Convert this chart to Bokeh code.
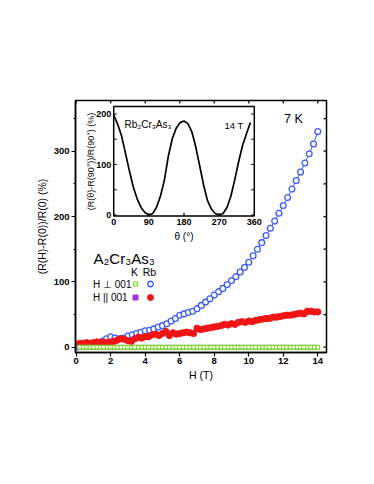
from math import pi
from bokeh.plotting import figure
from bokeh.models import Range1d, SingleIntervalTicker, Label
from bokeh.embed import file_html
from bokeh.resources import INLINE
from bokeh.core.properties import value

# ---------------- data ----------------
# Rb2Cr3As3, H perpendicular to 001 (blue open circles)
H_RB_PERP = [0.0, 0.25, 0.5, 0.75, 1.0, 1.25, 1.5, 1.75, 2.0, 2.25, 2.5, 2.75, 3.0, 3.25,
             3.5, 3.75, 4.0, 4.25, 4.5, 4.75, 5.0, 5.25, 5.5, 5.75, 6.0, 6.25, 6.5, 6.75,
             7.0, 7.25, 7.5, 7.75, 8.0, 8.25, 8.5, 8.75, 9.0, 9.25, 9.5, 9.75, 10.0, 10.25,
             10.5, 10.75, 11.0, 11.25, 11.5, 11.75, 12.0, 12.25, 12.5, 12.75, 13.0, 13.25,
             13.5, 13.75, 14.0]
MR_RB_PERP = [0, 2, 3, 4, 5, 6, 9, 13, 16, 14, 13, 14, 17, 19,
              21, 23, 25, 26, 28, 31, 33, 36, 40, 44, 49, 51, 53, 55,
              59, 64, 69, 74, 80, 85, 90, 96, 102, 108, 115, 122, 130, 140,
              150, 160, 171, 182, 193, 205, 217, 229, 242, 255, 268, 282,
              296, 311, 330]

# Rb2Cr3As3, H parallel to 001 (red filled circles)
H_RB_PAR = [0.0, 0.2, 0.4, 0.6, 0.8, 1.0, 1.2, 1.4, 1.6, 1.8, 2.0, 2.2, 2.4, 2.6, 2.8,
            3.0, 3.2, 3.4, 3.6, 3.8, 4.0, 4.2, 4.4, 4.6, 4.8, 5.0, 5.2, 5.4, 5.6, 5.8,
            6.0, 6.2, 6.4, 6.6, 6.8, 7.0, 7.2, 7.4, 7.6, 7.8, 8.0, 8.2, 8.4, 8.6, 8.8,
            9.0, 9.2, 9.4, 9.6, 9.8, 10.0, 10.2, 10.4, 10.6, 10.8, 11.0, 11.2, 11.4, 11.6,
            11.8, 12.0, 12.2, 12.4, 12.6, 12.8, 13.0, 13.2, 13.4, 13.6, 13.8, 14.0]
MR_RB_PAR = [4, 6, 6, 7, 6, 7, 8, 7, 8, 7, 8, 9, 11, 13, 12,
             10, 9, 13, 15, 14, 16, 16, 19, 20, 18, 21, 24, 18, 22, 20,
             21, 22, 23, 22, 21, 29, 27, 28, 29, 30, 31, 32, 33, 35, 34,
             36, 35, 38, 39, 38, 40, 39, 41, 42, 43, 44, 44, 46, 46,
             47, 48, 49, 49, 50, 51, 52, 51, 55, 55, 54, 54]

# K2Cr3As3, H perpendicular to 001 (green open squares)
H_K_PERP = [0.2, 0.4, 0.6, 0.8, 1.0, 1.2, 1.4, 1.6, 1.8, 2.0, 2.2, 2.4, 2.6, 2.8,
            3.0, 3.2, 3.4, 3.6, 3.8, 4.0, 4.2, 4.4, 4.6, 4.8, 5.0, 5.2, 5.4, 5.6, 5.8,
            6.0, 6.2, 6.4, 6.6, 6.8, 7.0, 7.2, 7.4, 7.6, 7.8, 8.0, 8.2, 8.4, 8.6, 8.8,
            9.0, 9.2, 9.4, 9.6, 9.8, 10.0, 10.2, 10.4, 10.6, 10.8, 11.0, 11.2, 11.4, 11.6,
            11.8, 12.0, 12.2, 12.4, 12.6, 12.8, 13.0, 13.2, 13.4, 13.6, 13.8, 14.0]
MR_K_PERP = [0, 0, 0, 0, 0, 0, 0, 0, 0, 0,
             0, 0, 0, 0, 0, 0, 0, 0, 0, 0,
             0, 0, 0, 0, 0, 0, 0, 0, 0, 0,
             0, 0, 0, 0, 0, 0, 0, 0, 0, 0,
             0, 0, 0, 0, 0, 0, 0, 0, 0, 0,
             0, 0, 0, 0, 0, 0, 0, 0, 0, 0,
             0, 0, 0, 0, 0, 0, 0, 0, 0, 0]

# K2Cr3As3, H parallel to 001 (purple filled squares)
H_K_PAR = [0.0, 0.1, 0.3, 0.5, 0.7, 0.9, 1.1, 1.3, 1.5, 1.7, 1.9, 2.1, 2.3, 2.5, 2.7,
           2.9, 3.1, 3.3, 3.5, 3.7, 3.9, 4.1, 4.3, 4.5, 4.7, 4.9, 5.1, 5.3, 5.5, 5.7,
           5.9, 6.1, 6.3, 6.5, 6.7, 6.9, 7.1, 7.3, 7.5, 7.7, 7.9, 8.1, 8.3, 8.5, 8.7,
           8.9, 9.1, 9.3, 9.5, 9.7, 9.9, 10.1, 10.3, 10.5, 10.7, 10.9, 11.1, 11.3, 11.5,
           11.7, 11.9, 12.1, 12.3, 12.5, 12.7, 12.9, 13.1, 13.3, 13.5, 13.7, 13.9]
MR_K_PAR = [0, 0, 0, 0, 0, 0, 0, 0, 0, 0,
            0, 0, 0, 0, 0, 0, 0, 0, 0, 0,
            0, 0, 0, 0, 0, 0, 0, 0, 0, 0,
            0, 0, 0, 0, 0, 0, 0, 0, 0, 0,
            0, 0, 0, 0, 0, 0, 0, 0, 0, 0,
            0, 0, 0, 0, 0, 0, 0, 0, 0, 0,
            0, 0, 0, 0, 0, 0, 0, 0, 0, 0, 0]

# inset: angular dependence at 14 T
THETA = [0, 10, 20, 30, 40, 50, 60, 70, 80, 90, 100, 110, 120, 130, 140, 150, 160, 170,
         180, 190, 200, 210, 220, 230, 240, 250, 260, 270, 280, 290, 300, 310, 320, 330,
         340, 350]
MR_THETA = [198, 180, 157, 123, 88, 56, 32, 15, 5, 0, 3, 16, 38, 70, 117, 151, 172, 183,
            186, 181, 165, 135, 98, 60, 29, 12, 3, 0, 3, 15, 37, 70, 106, 138,
            161, 183]

X_TICKS = [0, 2, 4, 6, 8, 10, 12, 14]
RIGHT_TICKS = [0, 50, 100, 150, 200, 250, 300, 350]
INSET_X_TICKS = [0, 90, 180, 270, 360]
INSET_Y_TICKS = [0, 100, 200]
INSET_Y_MINOR = [50, 150]

# ---------------- layout (figure pixel coordinates) ----------------
W, HGT = 366, 476
FL, FR, FT, FB = 75, 326, 100, 352                    # main frame
IN_L, IN_R, IN_T, IN_B = 113.2, 253.8, 106.0, 215.5   # inset frame


def rng(v0, p0, v1, p1, lo, hi):
    s = (p1 - p0) / (v1 - v0)
    return Range1d(v0 + (lo - p0) / s, v0 + (hi - p0) / s)


BLUE = "#3b5cf2"
RED = "#f01414"
GREEN = "#74d81c"
PURPLE = "#a533e6"
FONT = "Liberation Sans"

p = figure(width=W, height=HGT, output_backend="svg", toolbar_location=None,
           x_range=rng(0, 75.7, 14, 317.3, FL, FR),
           y_range=rng(0, 346.7, 300, 150.7, FB, FT),
           min_border_left=FL, min_border_right=W - FR,
           min_border_top=FT, min_border_bottom=HGT - FB)
p.extra_x_ranges = {"ix": rng(0, IN_L, 360, IN_R, FL, FR), "px": Range1d(FL, FR)}
p.extra_y_ranges = {"iy": rng(0, 214.5, 200, 113.5, FB, FT), "py": Range1d(FB, FT)}

p.xgrid.visible = False
p.ygrid.visible = False
p.outline_line_color = "black"
p.outline_line_width = 1.5
p.background_fill_color = "white"
p.border_fill_color = "white"

# main axes
xa = p.xaxis[0]
xa.ticker = SingleIntervalTicker(interval=2, num_minor_ticks=2)
xa.minor_tick_line_color = None
ya = p.yaxis[0]
ya.ticker = SingleIntervalTicker(interval=100, num_minor_ticks=2)
for ax in (xa, ya):
    ax.axis_line_width = 1.5
    ax.major_tick_line_width = 1.2
    ax.minor_tick_line_width = 1.2
    ax.major_tick_in = 0
    ax.major_tick_out = 4
    ax.minor_tick_in = 0
    ax.minor_tick_out = 2
    ax.major_label_text_font = FONT
    ax.major_label_text_font_size = "9.5px"
    ax.major_label_text_font_style = "bold"
    ax.major_label_text_color = "black"
    ax.axis_label_text_font = FONT
    ax.axis_label_text_font_size = "10.5px"
    ax.axis_label_text_font_style = "normal"
    ax.axis_label_text_color = "black"
xa.axis_label = "H (T)"
ya.axis_label = "(R(H)-R(0))/R(0) (%)"
xa.major_label_standoff = 1
xa.axis_label_standoff = 2
ya.major_label_standoff = 2
ya.axis_label_standoff = 3

# inward ticks on top and right edges
p.segment(x0=X_TICKS, x1=X_TICKS, y0=[FT] * len(X_TICKS), y1=[FT + 3] * len(X_TICKS),
          y_range_name="py", line_color="black", line_width=1.2)
p.segment(x0=[FR] * len(RIGHT_TICKS), x1=[FR - 3] * len(RIGHT_TICKS), y0=RIGHT_TICKS,
          y1=RIGHT_TICKS, x_range_name="px", line_color="black", line_width=1.2)

# main data
p.line(H_RB_PERP, MR_RB_PERP, line_color=BLUE, line_width=1)
p.scatter(H_RB_PERP, MR_RB_PERP, marker="circle", size=5.8, line_color=BLUE,
          fill_color="white", line_width=1.3)
p.scatter(H_RB_PAR, MR_RB_PAR, marker="circle", size=6.3, line_color=RED, fill_color=RED)
p.scatter(H_K_PAR, MR_K_PAR, marker="square", size=3.6, line_color=PURPLE, fill_color=PURPLE)
p.scatter(H_K_PERP, MR_K_PERP, marker="square", size=3.8, line_color=GREEN,
          fill_color="white", line_width=1.1)

# inset frame, curve, ticks, labels
p.quad(left=[IN_L], right=[IN_R], top=[IN_T], bottom=[IN_B], x_range_name="px",
       y_range_name="py", fill_color="white", line_color="black", line_width=1.5)
p.line(THETA, MR_THETA, x_range_name="ix", y_range_name="iy", line_color="black",
       line_width=1.7)
p.segment(x0=INSET_X_TICKS, x1=INSET_X_TICKS, y0=[IN_B] * len(INSET_X_TICKS),
          y1=[IN_B - 3] * len(INSET_X_TICKS), x_range_name="ix", y_range_name="py",
          line_color="black", line_width=1.2)
yt_all = INSET_Y_TICKS + INSET_Y_MINOR
p.segment(x0=[IN_L] * len(yt_all), x1=[IN_L + 3] * len(yt_all), y0=yt_all, y1=yt_all,
          x_range_name="px", y_range_name="iy", line_color="black", line_width=1.2)
p.segment(x0=[IN_R] * len(yt_all), x1=[IN_R - 3] * len(yt_all), y0=yt_all, y1=yt_all,
          x_range_name="px", y_range_name="iy", line_color="black", line_width=1.2)
p.text(x=INSET_X_TICKS, y=[IN_B + 3] * len(INSET_X_TICKS),
       text=[str(t) for t in INSET_X_TICKS], x_range_name="ix", y_range_name="py",
       text_align="center", text_baseline="top", text_font=value(FONT),
       text_font_size="9px", text_font_style="bold", text_color="black")
p.text(x=[IN_L - 2.5] * len(INSET_Y_TICKS), y=INSET_Y_TICKS,
       text=[str(t) for t in INSET_Y_TICKS], x_range_name="px", y_range_name="iy",
       text_align="right", text_baseline="middle", text_font=value(FONT),
       text_font_size="9px", text_font_style="bold", text_color="black")


def lab(x, y, text, size, align="left", baseline="middle", angle=0, style="normal"):
    p.add_layout(Label(x=x, y=y, text=text, x_range_name="px", y_range_name="py",
                       text_font=FONT, text_font_size=size, text_align=align,
                       text_baseline=baseline, angle=angle, text_font_style=style,
                       text_color="black"))


lab(183.5, 236, "\u03b8 (\u00b0)", "10px", align="center")
lab(90, 161, "(R(\u03b8)-R(90\u00b0))/R(90\u00b0) (%)", "9px", align="center", angle=pi / 2)
lab(124, 123.5, "Rb\u2082Cr\u2083As\u2083", "10px", baseline="alphabetic")
lab(224, 125, "14 T", "9.5px", baseline="alphabetic")
lab(293, 118.5, "7 K", "12.5px", align="center")
lab(93, 257.5, "A\u2082Cr\u2083As\u2083", "15px", baseline="alphabetic")
lab(134, 271.5, "K", "10.5px", align="center")
lab(149, 271.5, "Rb", "10.5px", align="center")
lab(92.5, 283.5, "H \u22a5 001", "10px")
lab(92.5, 297, "H || 001", "10px")

# legend keys (pixel positions)
p.scatter([135], [283.5], x_range_name="px", y_range_name="py", marker="square", size=4,
          line_color=GREEN, fill_color="white", line_width=1.2)
p.scatter([150], [283.5], x_range_name="px", y_range_name="py", marker="circle", size=5.5,
          line_color=BLUE, fill_color="white", line_width=1.3)
p.scatter([135], [297], x_range_name="px", y_range_name="py", marker="square", size=5,
          line_color=PURPLE, fill_color=PURPLE)
p.scatter([150], [297], x_range_name="px", y_range_name="py", marker="circle", size=6,
          line_color=RED, fill_color=RED)

open("out.html", "w").write(file_html(p, INLINE))
